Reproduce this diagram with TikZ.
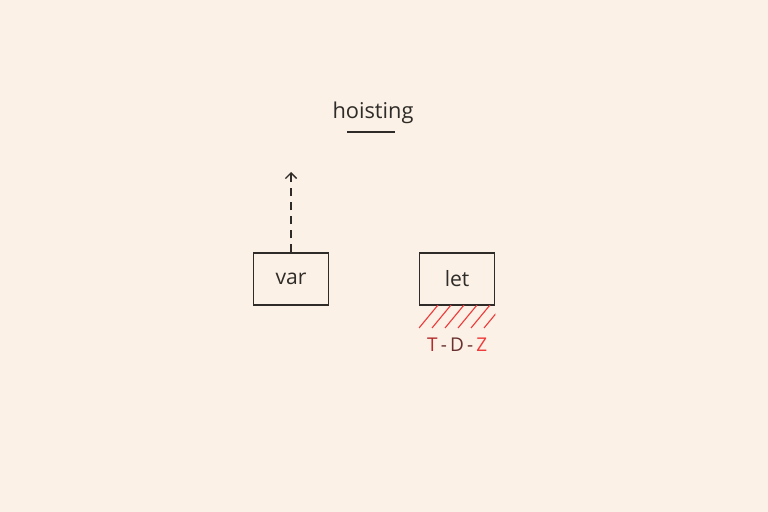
\documentclass[tikz,border=0pt]{standalone}
\usepackage{fontspec}
\setmainfont{Open Sans}
\usetikzlibrary{positioning,arrows.meta}
\definecolor{paper}{HTML}{FBF1E6}
\definecolor{ink}{HTML}{2E2B28}
\definecolor{tdzred}{HTML}{EE3B3B}

\begin{document}
\begin{tikzpicture}[x=0.025cm,y=-0.025cm,node distance=2.24cm,thick,ink,kutu/.style={rectangle,draw=ink,line width=0.9pt,minimum width=1.88cm,minimum height=1.3cm,font=\fontsize{15}{18}\selectfont},etiket/.style={font=\fontsize{15.5}{18}\selectfont,text=ink},tara/.style={tdzred,line width=0.8pt}]
		\fill[paper] (0,0) rectangle (768,512);
		\useasboundingbox (0,0) rectangle (768,512);

		\node[etiket] (hoist) at (373,113) {hoisting};
		\node[kutu] (var) at (291,279) {var};
		\node[kutu] (let) [right=of var] {let};
		\node[font=\fontsize{13.5}{16}\selectfont] (tdz) [below=0.68cm of let] {\textcolor{tdzred!75!black}{T}\,\textcolor{ink!70!tdzred}{-\,D\,-}\,\textcolor{tdzred}{Z}};

		\coordinate (ucL) at (347,132);
		\coordinate (ucR) at (395,132);
		\coordinate (ok) at (291,172);
		\coordinate (altSW) at (419,328);

		\draw[line width=0.9pt] (ucL) -- (ucR);
		\draw[line width=0.9pt,dash pattern=on 6pt off 4pt,-{Straight Barb[length=4pt,width=8pt]}] (var.north) -- (ok);

		\begin{scope}
		\clip (let.south west) rectangle (let.south east |- altSW);
		\foreach \i in {0,...,5}
		\draw[tara] ([xshift=\i*13*0.025cm]altSW) -- ++(19,-23);
		\end{scope}

		\end{tikzpicture}
\end{document}
